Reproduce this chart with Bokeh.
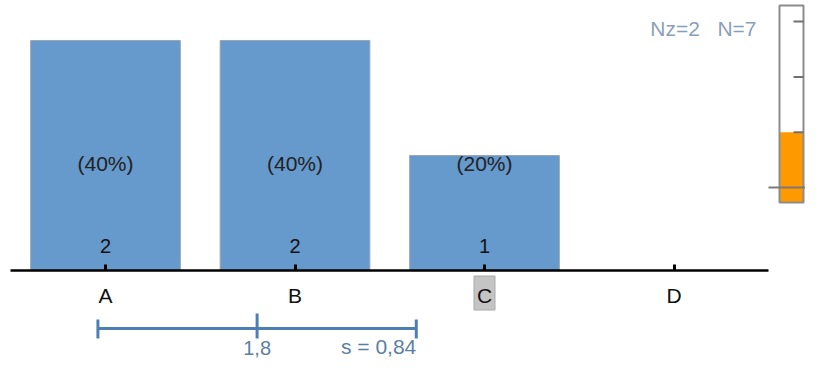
from bokeh.plotting import figure
from bokeh.models import Range1d, LinearAxis, FixedTicker, ColumnDataSource
from bokeh.core.properties import value
from bokeh.embed import file_html
from bokeh.resources import INLINE

# ---------------- data ----------------
categories = ["A", "B", "C", "D"]
counts = [2, 2, 1, 0]
percents = [40, 40, 20, 0]
highlighted = "C"
mean_value = 1.8
sd_value = 0.84
nz_value = 2
n_value = 7
therm_level = 1.0
therm_ticks = [1, 2, 3]

# ---------------- layout constants (pixels of the picture) ----------------
W, H = 805, 360
CAT_PX0, CAT_STEP = 105.0, 189.5      # x of first category, spacing
BASE_PX, UNIT_PX = 270.0, 115.0       # baseline y, px per count
FONT = "Liberation Sans"

def xd(px):
    return 1 + (px - CAT_PX0) / CAT_STEP

def yd(py):
    return (BASE_PX - py) / UNIT_PX

p = figure(width=W, height=H, x_range=Range1d(xd(0), xd(W)), y_range=Range1d(yd(H), yd(0)),
           x_axis_type=None, y_axis_type=None, toolbar_location=None,
           output_backend="svg", min_border=0, outline_line_color=None)
p.grid.visible = False
p.background_fill_color = "white"
p.border_fill_color = "white"

pos = [i + 1 for i in range(len(categories))]

# bars
src = ColumnDataSource(dict(x=pos, top=counts, cat=categories,
                            cnt=[str(c) if c > 0 else "" for c in counts],
                            pct=[f"({v}%)" if v > 0 else "" for v in percents]))
p.vbar(x="x", top="top", bottom=0, width=0.79, source=src,
       fill_color="#6699CC", line_color="#9aa6b2", line_width=1)

# count and percent labels
p.text(x="x", y=yd(245), text="cnt", source=src, text_align="center",
       text_baseline="middle", text_font=value(FONT), text_font_size="20px",
       text_color="#111111")
p.text(x="x", y=yd(163), text="pct", source=src, text_align="center",
       text_baseline="middle", text_font=value(FONT), text_font_size="21px",
       text_color="#222222")

# highlight box behind the category label
hi = pos[categories.index(highlighted)]
p.rect(x=[hi], y=[yd(292.5)], width=21, height=34, width_units="screen",
       height_units="screen", fill_color="#c4c4c4", line_color="#aaaaaa")

# x axis at the baseline
ax = LinearAxis(fixed_location=0, ticker=FixedTicker(ticks=pos),
                major_label_overrides={p_: c for p_, c in zip(pos, categories)},
                bounds=(0.5, len(categories) + 0.5))
ax.axis_line_color = "black"
ax.axis_line_width = 2.5
ax.major_tick_in = 6
ax.major_tick_out = 0
ax.major_tick_line_width = 3
ax.major_tick_line_color = "black"
ax.minor_tick_line_color = None
ax.major_label_text_font = FONT
ax.major_label_text_font_size = "21px"
ax.major_label_text_color = "#111111"
ax.major_label_standoff = 13
p.add_layout(ax, "below")

# mean +- sd bar
BAR_COL = "#4d7fb3"
TXT_COL = "#5b7fa3"
ybar = yd(328)
p.segment(x0=[mean_value - sd_value], x1=[mean_value + sd_value], y0=[ybar], y1=[ybar],
          line_color=BAR_COL, line_width=3)
p.segment(x0=[mean_value - sd_value, mean_value + sd_value],
          x1=[mean_value - sd_value, mean_value + sd_value],
          y0=[yd(319)] * 2, y1=[yd(338)] * 2, line_color=BAR_COL, line_width=3)
p.segment(x0=[mean_value], x1=[mean_value], y0=[yd(313)], y1=[yd(338)],
          line_color=BAR_COL, line_width=3)
p.text(x=[mean_value], y=[yd(347)], text=[f"{mean_value:.1f}".replace(".", ",")],
       text_align="center", text_baseline="middle", text_font=value(FONT),
       text_font_size="20px", text_color=TXT_COL)
p.text(x=[mean_value + sd_value], y=[yd(346)],
       text=[f"s = {sd_value:.2f}".replace(".", ",")],
       text_align="right", text_baseline="middle", text_font=value(FONT),
       text_font_size="21px", text_color=TXT_COL)

# Nz / N text
NB = "\u00a0"
p.text(x=[xd(756)], y=[yd(28)], text=[f"Nz={nz_value}{NB*3}N={n_value}"],
       text_align="right", text_baseline="middle", text_font=value(FONT),
       text_font_size="21px", text_color="#8aa0b8")

# thermometer on its own ranges
TX0, TPX = 779.0, 24.0       # left px, px per unit (box is 0..1)
TY0, TPY = 187.0, 55.3       # zero-line px, px per unit
p.extra_x_ranges = {"th": Range1d((0 - TX0) / TPX, (W - TX0) / TPX)}
p.extra_y_ranges = {"th": Range1d((TY0 - H) / TPY, (TY0 - 0) / TPY)}
tb = (TY0 - 202) / TPY
tt = (TY0 - 5) / TPY
p.quad(left=[0], right=[1], bottom=[tb], top=[tt], fill_color="white",
       line_color=None, x_range_name="th", y_range_name="th")
p.quad(left=[0], right=[1], bottom=[tb], top=[therm_level], fill_color="#ff9900",
       line_color=None, x_range_name="th", y_range_name="th")
p.quad(left=[0], right=[1], bottom=[tb], top=[tt], fill_color=None,
       line_color="#8c8c8c", line_width=2, x_range_name="th", y_range_name="th")
p.segment(x0=[(793 - TX0) / TPX] * len(therm_ticks), x1=[1] * len(therm_ticks),
          y0=therm_ticks, y1=therm_ticks, line_color="#707070", line_width=2,
          x_range_name="th", y_range_name="th")
p.segment(x0=[(768 - TX0) / TPX], x1=[(813 - TX0) / TPX], y0=[0], y1=[0],
          line_color="#7a7a7a", line_width=2, x_range_name="th", y_range_name="th")

open("out.html", "w").write(file_html(p, INLINE))
